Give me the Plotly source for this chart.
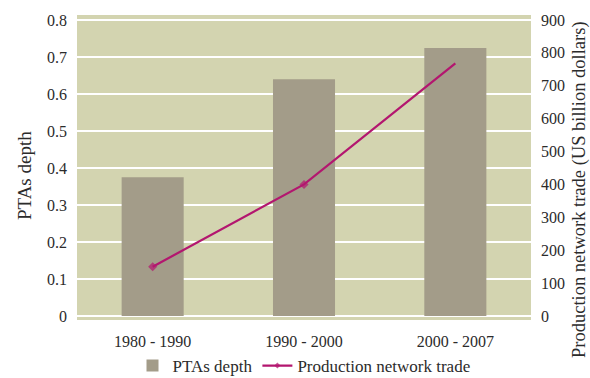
import plotly.graph_objects as go

categories = ["1980 - 1990", "1990 - 2000", "2000 - 2007"]
ptas_depth = [0.375, 0.64, 0.724]
production_trade = [150, 400, 768]
left_ticks = [0, 0.1, 0.2, 0.3, 0.4, 0.5, 0.6, 0.7, 0.8]
right_ticks = [0, 100, 200, 300, 400, 500, 600, 700, 800, 900]

FONT = "Liberation Serif"
TXT = "#2b2b2b"
W, H = 590, 378
ML, MR, MT, MB = 77, 59, 15, 58
PW, PH = W - ML - MR, H - MT - MB

fig = go.Figure()
fig.add_trace(go.Bar(
    x=categories, y=ptas_depth, name="PTAs depth",
    marker=dict(color="#a39c89", line=dict(width=0)), width=0.41,
    yaxis="y",
))
fig.add_trace(go.Scatter(
    x=categories, y=production_trade, name="Production network trade",
    mode="lines+markers",
    line=dict(color="#b3166f", width=2.2),
    marker=dict(symbol="diamond", size=[7, 7, 0], color="#b3166f", line=dict(width=0)),
    yaxis="y2",
))

fig.update_layout(
    width=W, height=H,
    margin=dict(l=ML, r=MR, t=MT, b=MB, autoexpand=False),
    paper_bgcolor="white",
    plot_bgcolor="#d3d4b0",
    font=dict(family=FONT, size=16, color=TXT),
    showlegend=True,
    legend=dict(orientation="h", x=0.5, xanchor="center",
                yref="container", y=(H - 366) / H, yanchor="middle",
                font=dict(family=FONT, size=17, color=TXT), bgcolor="rgba(0,0,0,0)",
                itemwidth=30, traceorder="normal"),
    xaxis=dict(showgrid=False, showline=False, ticks="", tickfont=dict(size=16),
               ticklabelstandoff=10),
    yaxis=dict(range=[-0.011, 0.8135], tickvals=left_ticks,
               ticktext=[("%g" % v) for v in left_ticks],
               showgrid=True, gridcolor="white", gridwidth=1.5,
               zeroline=False, showline=False, ticks="",
               tickfont=dict(size=16), ticklabelstandoff=9),
    yaxis2=dict(range=[-12, 915], tickvals=right_ticks, overlaying="y", side="right",
                showgrid=False, zeroline=False, showline=False, ticks="",
                tickfont=dict(size=16), ticklabelstandoff=9),
    annotations=[
        dict(text="PTAs depth", textangle=-90,
             x=(24 - ML) / PW, xref="paper", xanchor="center",
             y=(H - MB - 176) / PH, yref="paper", yanchor="middle",
             showarrow=False, font=dict(family=FONT, size=19, color=TXT)),
        dict(text="Production network trade (US billion dollars)", textangle=-90,
             x=(579 - ML) / PW, xref="paper", xanchor="center",
             y=(H - MB - 190) / PH, yref="paper", yanchor="middle",
             showarrow=False, font=dict(family=FONT, size=18.5, color=TXT)),
    ],
)

fig.write_html("out.html")
